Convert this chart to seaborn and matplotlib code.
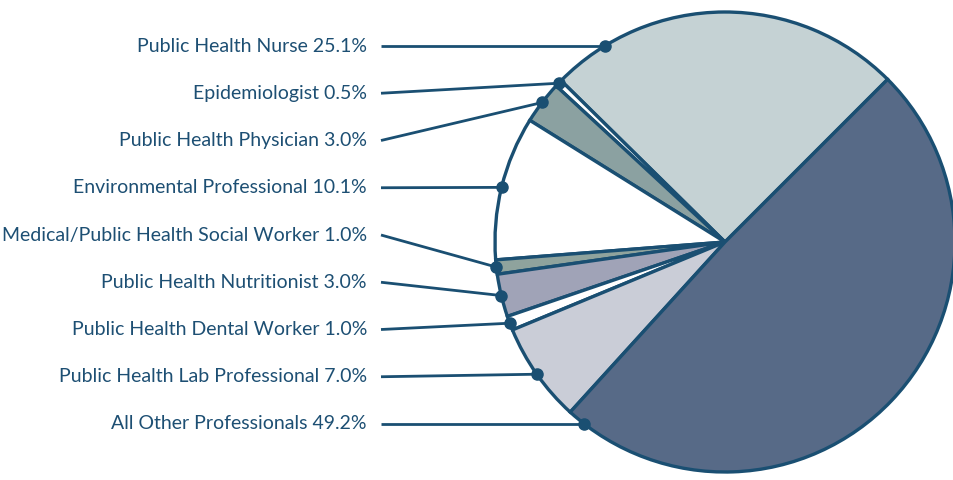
import numpy as np
import matplotlib
matplotlib.use("Agg")
import matplotlib.pyplot as plt
import seaborn as sns

categories = ["Public Health Nurse", "Epidemiologist", "Public Health Physician",
              "Environmental Professional", "Medical/Public Health Social Worker",
              "Public Health Nutritionist", "Public Health Dental Worker",
              "Public Health Lab Professional", "All Other Professionals"]
values = [25.1, 0.5, 3.0, 10.1, 1.0, 3.0, 1.0, 7.0, 49.2]
colors = ["#c5d2d4", "#ffffff", "#8ba1a1", "#ffffff", "#8fa39d",
          "#a0a3b7", "#ffffff", "#cacdd7", "#576a87"]

sns.set_theme(style="white")
plt.rcParams['font.family'] = ['Lato', 'DejaVu Sans']

EDGE = "#1a4f72"
TEXT = "#1d4f73"
W, H = 954, 480
fig = plt.figure(figsize=(W / 100, H / 100), dpi=100)
ax = fig.add_axes([0, 0, 1, 1])

cx, cy, r = 725, 480 - 242, 230
wedges, _ = ax.pie(values, colors=colors, startangle=45, counterclock=True,
                   center=(cx, cy), radius=r, frame=True,
                   wedgeprops=dict(edgecolor=EDGE, linewidth=2.4, joinstyle="miter"))
ax.set_xlim(0, W)
ax.set_ylim(0, H)
ax.set_aspect("equal")
ax.axis("off")

label_top, label_step = 480 - 46, 47.25
text_x, line_x = 367, 381
for i, (w, name, v) in enumerate(zip(wedges, categories, values)):
    ly = label_top - i * label_step
    t1, t2 = w.theta1, w.theta2
    if t2 - t1 < 40:
        ang = np.deg2rad(0.5 * (t1 + t2))
    else:
        dy = np.clip((ly - cy) / r, -1, 1)
        ang = np.pi - np.arcsin(dy)
    px, py = cx + r * np.cos(ang), cy + r * np.sin(ang)
    ax.plot([line_x, px], [ly, py], color=EDGE, lw=2, solid_capstyle="butt", zorder=5)
    ax.plot([px], [py], "o", color=EDGE, ms=8, zorder=6)
    ax.text(text_x, ly, f"{name} {v:.1f}%", ha="right", va="center",
            fontsize=14, color=TEXT)

fig.savefig("out.png", dpi=100)
